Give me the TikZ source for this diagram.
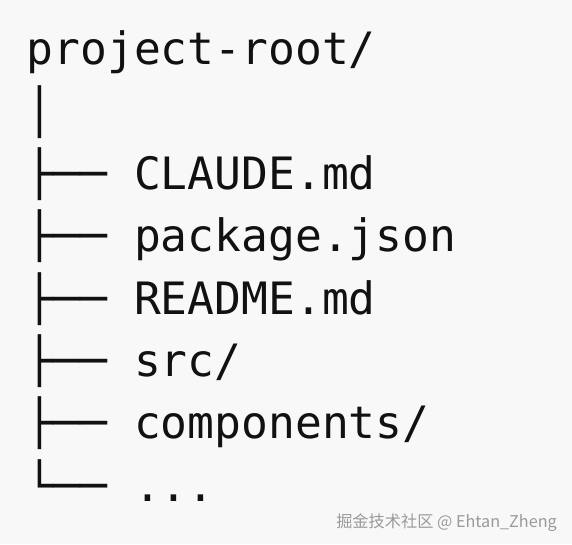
\documentclass[tikz,border=0pt]{standalone}
\usepackage{fontspec}
\setmonofont{DejaVu Sans Mono}
\newfontfamily\cjkfont{Noto Sans CJK SC}
\definecolor{bgcol}{HTML}{F8F8F8}
\definecolor{inkcol}{HTML}{111111}
\definecolor{markcol}{HTML}{9A9A9A}
\begin{document}
\begin{tikzpicture}[x=1pt,y=1pt,
  treeline/.style={anchor=base west,inner sep=0pt,text=inkcol,font=\ttfamily\fontsize{44.6}{44.6}\selectfont},
  watermark/.style={anchor=base east,inner sep=0pt,text=markcol,font=\cjkfont\fontsize{16.2}{16.2}\selectfont}]
\fill[bgcol] (0,0) rectangle (572,544);
\useasboundingbox (0,0) rectangle (572,544);
\node[treeline] (root) at (26.5,{544-65}) {project-root/};
\node[treeline] (bar) at (26.5,{544-127.3}) {│};
\node[treeline] (claude) at (26.5,{544-189.6}) {├── CLAUDE.md};
\node[treeline] (pkg) at (26.5,{544-251.9}) {├── package.json};
\node[treeline] (readme) at (26.5,{544-314.2}) {├── README.md};
\node[treeline] (src) at (26.5,{544-376.5}) {├── src/};
\node[treeline] (comp) at (26.5,{544-438.8}) {├── components/};
\node[treeline] (more) at (26.5,{544-501.1}) {└── ...};
\node[watermark] (wm) at (557,{544-527}) {掘金技术社区 @ Ehtan\_Zheng};
\end{tikzpicture}
\end{document}
